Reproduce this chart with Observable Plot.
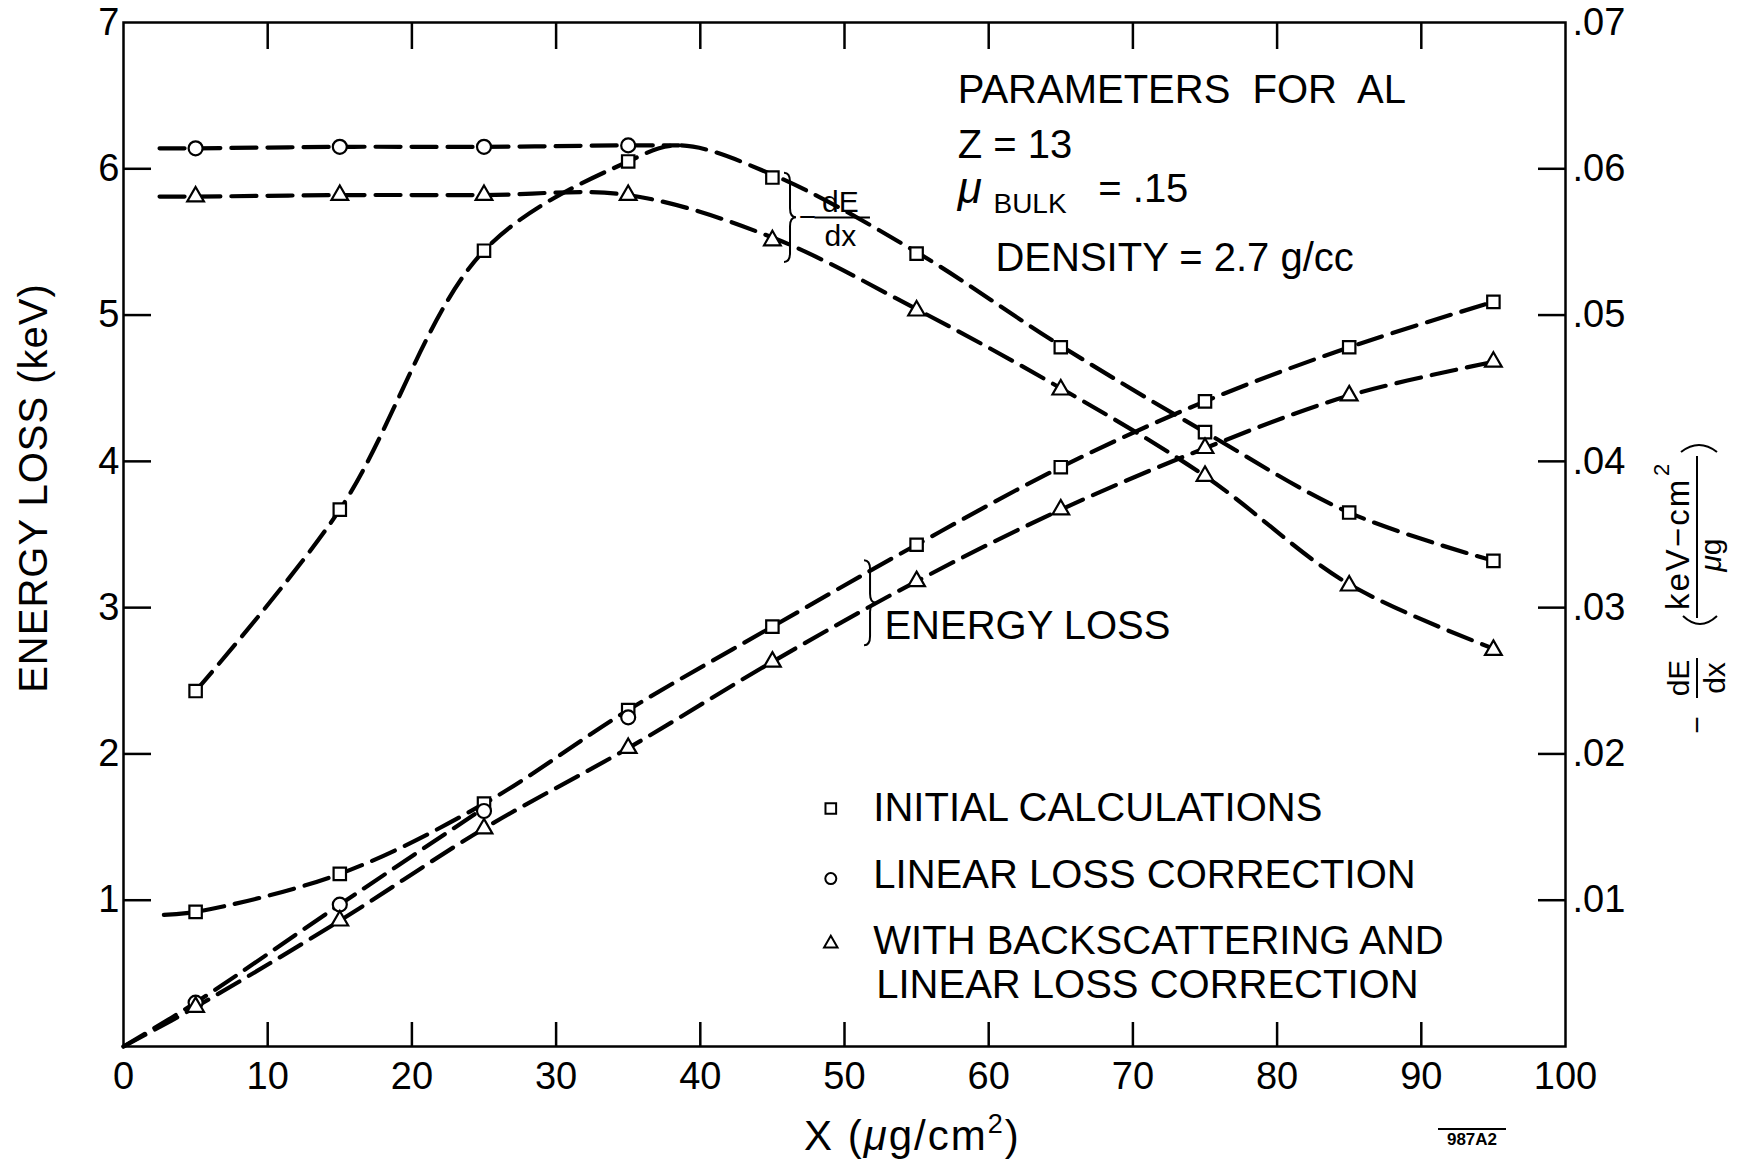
<!DOCTYPE html>
<html>
<head>
<meta charset="utf-8">
<script src="https://cdn.jsdelivr.net/npm/d3@7"></script>
<script src="https://cdn.jsdelivr.net/npm/@observablehq/plot@0.6"></script>
<style>
  html, body { margin: 0; padding: 0; background: #fff; }
  #chart svg { display: block; }
</style>
</head>
<body>
<div id="chart"></div>
<script>
// ---------------- data ----------------
const thickness = [5, 15, 25, 35, 45, 55, 65, 75, 85, 95];          // X (µg/cm²)
const thicknessLinear = [5, 15, 25, 35];

// -dE/dx  (keV-cm²/µg), right axis
const dedxInitial     = [0.0243, 0.0367, 0.0544, 0.0605, 0.0594, 0.0542, 0.0478, 0.0420, 0.0365, 0.0332];
const dedxLinear      = [0.0614, 0.0615, 0.0615, 0.0616];
const dedxBackscatter = [0.0581, 0.0582, 0.0582, 0.0582, 0.0551, 0.0503, 0.0449, 0.0390, 0.0315, 0.0271];

// Energy loss (keV), left axis
const eLossInitial     = [0.92, 1.18, 1.66, 2.30, 2.87, 3.43, 3.96, 4.41, 4.78, 5.09];
const eLossLinear      = [0.30, 0.97, 1.61, 2.25];
const eLossBackscatter = [0.27, 0.86, 1.49, 2.04, 2.63, 3.18, 3.67, 4.09, 4.45, 4.68];

// faired dashed curves (knots)
const curveDedxInitialX = [5, 15, 25, 35, 38.5, 45, 55, 65, 75, 85, 95];
const curveDedxInitialY = [0.0243, 0.0367, 0.0544, 0.0605, 0.0616, 0.0596, 0.0543, 0.0479, 0.0420, 0.0365, 0.0332];
const curveDedxLinearX  = [2.5, 5, 15, 25, 35, 38.5];
const curveDedxLinearY  = [0.0614, 0.0614, 0.0615, 0.0615, 0.0616, 0.0616];
const curveDedxBackX    = [2.5, 5, 15, 25, 35, 45, 55, 65, 75, 85, 95];
const curveDedxBackY    = [0.0581, 0.0581, 0.0582, 0.0582, 0.0582, 0.0553, 0.0504, 0.0450, 0.0390, 0.0316, 0.0272];
const curveELossInitialX = [2.8, 5, 15, 25, 35, 45, 55, 65, 75, 85, 95];
const curveELossInitialY = [0.90, 0.92, 1.18, 1.66, 2.30, 2.87, 3.43, 3.96, 4.41, 4.78, 5.09];
const curveELossLinearX  = [0, 5, 15, 25];
const curveELossLinearY  = [0, 0.30, 0.97, 1.63];
const curveELossBackX    = [0, 5, 15, 25, 35, 45, 55, 65, 75, 85, 95];
const curveELossBackY    = [0, 0.27, 0.86, 1.49, 2.04, 2.63, 3.18, 3.67, 4.09, 4.45, 4.68];

// tick labels
const xTickLabels   = [0, 10, 20, 30, 40, 50, 60, 70, 80, 90, 100];
const xInnerTicks   = [10, 20, 30, 40, 50, 60, 70, 80, 90];
const yLeftLabels   = [1, 2, 3, 4, 5, 6, 7];
const yLeftTicks    = [1, 2, 3, 4, 5, 6];
const yRightLabels  = [0.01, 0.02, 0.03, 0.04, 0.05, 0.06, 0.07];
const yRightTicks   = [0.01, 0.02, 0.03, 0.04, 0.05, 0.06];

const legendLabels = ["INITIAL CALCULATIONS", "LINEAR LOSS CORRECTION", "WITH BACKSCATTERING AND", "LINEAR LOSS CORRECTION"];

// ---------------- helpers ----------------
const RIGHT_FACTOR = 100; // right axis value * 100 = left axis units
const pts = (xs, ys, k = 1) => xs.map((x, i) => ({x, y: ys[i] * k}));
const W = 1752, H = 1168;
const mL = 123, mR = 187, mT = 22, mB = 122;
const pw = W - mL - mR, ph = H - mT - mB;

const dash = {stroke: "black", strokeWidth: 4.2, strokeDasharray: "25,11", curve: "catmull-rom", fill: "none"};
const dotStyle = {fill: "white", stroke: "black", strokeWidth: 2.2};
const note = (str, x, y, opts = {}) =>
  Plot.text([str], {x: () => x, y: () => y, text: d => d, textAnchor: "start", fontSize: 40, fill: "black", ...opts});

const plot = Plot.plot({
  width: W, height: H,
  marginLeft: mL, marginRight: mR, marginTop: mT, marginBottom: mB,
  x: {domain: [0, 100]},
  y: {domain: [0, 7]},
  style: {fontFamily: "'Liberation Sans', Arial, sans-serif", background: "white", color: "black", overflow: "visible"},
  marks: [
    // inward ticks
    Plot.tickY(yLeftTicks, {y: d => d, insetRight: pw - 28, strokeWidth: 2.5, stroke: "black"}),
    Plot.tickY(yRightTicks, {y: d => d * RIGHT_FACTOR, insetLeft: pw - 27, strokeWidth: 2.5, stroke: "black"}),
    Plot.tickX(xInnerTicks, {x: d => d, insetTop: ph - 24, strokeWidth: 2.5, stroke: "black"}),
    Plot.tickX(xInnerTicks, {x: d => d, insetBottom: ph - 27, strokeWidth: 2.5, stroke: "black"}),
    Plot.frame({stroke: "black", strokeWidth: 2.5}),

    // axes labels
    Plot.axisX(xTickLabels, {anchor: "bottom", tickSize: 0, tickPadding: 16, fontSize: 38, label: null, tickFormat: d => String(d)}),
    Plot.axisY(yLeftLabels, {anchor: "left", tickSize: 0, tickPadding: 4, fontSize: 38, label: null, tickFormat: d => String(d)}),
    Plot.text(yRightLabels, {x: () => 100, y: d => d * RIGHT_FACTOR, text: d => "." + String(Math.round(d * 100)).padStart(2, "0"),
      textAnchor: "start", dx: 7, fontSize: 38, fill: "black"}),

    // dashed curves
    Plot.line(pts(curveDedxInitialX, curveDedxInitialY, RIGHT_FACTOR), {x: "x", y: "y", ...dash}),
    Plot.line(pts(curveDedxLinearX, curveDedxLinearY, RIGHT_FACTOR), {x: "x", y: "y", ...dash}),
    Plot.line(pts(curveDedxBackX, curveDedxBackY, RIGHT_FACTOR), {x: "x", y: "y", ...dash}),
    Plot.line(pts(curveELossInitialX, curveELossInitialY), {x: "x", y: "y", ...dash}),
    Plot.line(pts(curveELossLinearX, curveELossLinearY), {x: "x", y: "y", ...dash}),
    Plot.line(pts(curveELossBackX, curveELossBackY), {x: "x", y: "y", ...dash}),

    // markers
    Plot.dot(pts(thickness, dedxInitial, RIGHT_FACTOR), {x: "x", y: "y", symbol: "square", r: 7, ...dotStyle}),
    Plot.dot(pts(thicknessLinear, dedxLinear, RIGHT_FACTOR), {x: "x", y: "y", symbol: "circle", r: 7, ...dotStyle}),
    Plot.dot(pts(thickness, dedxBackscatter, RIGHT_FACTOR), {x: "x", y: "y", symbol: "triangle", r: 6.2, ...dotStyle}),
    Plot.dot(pts(thickness, eLossInitial), {x: "x", y: "y", symbol: "square", r: 7, ...dotStyle}),
    Plot.dot(pts(thicknessLinear, eLossLinear), {x: "x", y: "y", symbol: "circle", r: 7, ...dotStyle}),
    Plot.dot(pts(thickness, eLossBackscatter), {x: "x", y: "y", symbol: "triangle", r: 6.2, ...dotStyle}),

    // parameter block
    note("PARAMETERS  FOR  AL", 57.85, 6.54, {letterSpacing: 1}),
    note("Z = 13", 57.85, 6.16, {letterSpacing: 1}),
    note("\u03BC", 57.85, 5.86, {fontSize: 44, fontStyle: "italic"}),
    note("BULK", 60.33, 5.76, {fontSize: 28, letterSpacing: 1}),
    note("= .15", 67.6, 5.86, {letterSpacing: 1}),
    note("DENSITY = 2.7 g/cc", 60.47, 5.39, {letterSpacing: 2}),

    // -dE/dx label
    note("\u2212", 47.43, 5.667, {fontSize: 30, textAnchor: "middle"}),
    note("dE", 49.72, 5.767, {fontSize: 30, textAnchor: "middle"}),
    note("dx", 49.72, 5.54, {fontSize: 30, textAnchor: "middle"}),
    Plot.ruleY([5.667], {x1: 47.95, x2: 51.8, stroke: "black", strokeWidth: 2}),

    // energy loss label
    note("ENERGY LOSS", 52.77, 2.87, {letterSpacing: 1}),

    // legend
    Plot.dot([0], {x: () => 49.05, y: () => 1.627, symbol: "square", r: 6, ...dotStyle, strokeWidth: 2}),
    Plot.dot([0], {x: () => 49.05, y: () => 1.148, symbol: "circle", r: 5.5, ...dotStyle, strokeWidth: 2}),
    Plot.dot([0], {x: () => 49.05, y: () => 0.704, symbol: "triangle", r: 5, ...dotStyle, strokeWidth: 2}),
    note(legendLabels[0], 52.0, 1.632, {letterSpacing: 1.6}),
    note(legendLabels[1], 52.0, 1.174, {letterSpacing: 1.6}),
    note(legendLabels[2], 52.0, 0.723, {letterSpacing: 1.6}),
    note(legendLabels[3], 52.2, 0.416, {letterSpacing: 1.6})
  ]
});

document.getElementById("chart").appendChild(plot);

// ---------------- annotations drawn through the plot's scales ----------------
const svg = d3.select(plot);
const sx = plot.scale("x"), sy = plot.scale("y");
const fx = sx.apply ? (v => sx.apply(v)) : d3.scaleLinear(sx.domain, sx.range);
const fy = sy.apply ? (v => sy.apply(v)) : d3.scaleLinear(sy.domain, sy.range);

const braces = [{x: 45.84, y1: 5.36, y2: 5.97}, {x: 51.39, y1: 2.74, y2: 3.32}];
braces.forEach(b => {
  const x0 = fx(b.x), top = fy(b.y2), bot = fy(b.y1), mid = (top + bot) / 2, w = 6;
  const d = `M${x0},${top} Q${x0 + w},${top} ${x0 + w},${top + 9} L${x0 + w},${mid - 9} Q${x0 + w},${mid} ${x0 + 2 * w},${mid} ` +
            `Q${x0 + w},${mid} ${x0 + w},${mid + 9} L${x0 + w},${bot - 9} Q${x0 + w},${bot} ${x0},${bot}`;
  svg.append("path").attr("d", d).attr("fill", "none").attr("stroke", "black").attr("stroke-width", 2);
});

const FONT = "'Liberation Sans', Arial, sans-serif";

// left axis title
svg.append("text")
  .attr("transform", `translate(47,${mT + 466}) rotate(-90)`)
  .attr("text-anchor", "middle").attr("font-size", 40).attr("font-family", FONT).attr("fill", "black")
  .attr("letter-spacing", 1)
  .text("ENERGY LOSS (keV)");

// x axis title
const xt = svg.append("text")
  .attr("x", 804).attr("y", 1150).attr("text-anchor", "start").attr("font-size", 42).attr("font-family", FONT).attr("fill", "black")
  .attr("letter-spacing", 2);
xt.append("tspan").text("X (");
xt.append("tspan").attr("font-style", "italic").text("\u03BC");
xt.append("tspan").text("g/cm");
xt.append("tspan").attr("font-size", 27).attr("dy", -17).text("2");
xt.append("tspan").attr("dy", 17).text(")");

// right axis title (rotated)
const rt = svg.append("g").attr("transform", "translate(1697,590) rotate(-90)")
  .attr("font-family", FONT).attr("fill", "black").attr("text-anchor", "start");
rt.append("text").attr("x", -135).attr("y", 10).attr("text-anchor", "middle").attr("font-size", 30).text("\u2212");
rt.append("text").attr("x", -88).attr("y", -8).attr("text-anchor", "middle").attr("font-size", 30).text("dE");
rt.append("line").attr("x1", -108).attr("x2", -68).attr("y1", 0).attr("y2", 0).attr("stroke", "black").attr("stroke-width", 2);
rt.append("text").attr("x", -88).attr("y", 28).attr("text-anchor", "middle").attr("font-size", 30).text("dx");
rt.append("path").attr("d", "M-26,-14 Q-42,3 -26,20").attr("fill", "none").attr("stroke", "black").attr("stroke-width", 2);
rt.append("line").attr("x1", -28).attr("x2", 134).attr("y1", 0).attr("y2", 0).attr("stroke", "black").attr("stroke-width", 2);
rt.append("text").attr("x", -20).attr("y", -8).attr("text-anchor", "start").attr("font-size", 33).attr("letter-spacing", 2).text("keV\u2212cm");
rt.append("text").attr("x", 114).attr("y", -28).attr("text-anchor", "start").attr("font-size", 22).text("2");
const mug = rt.append("text").attr("x", 35).attr("y", 24).attr("text-anchor", "middle").attr("font-size", 30);
mug.append("tspan").attr("font-style", "italic").text("\u03BC");
mug.append("tspan").text("g");
rt.append("path").attr("d", "M138,-16 Q152,2 138,20").attr("fill", "none").attr("stroke", "black").attr("stroke-width", 2);

// drawing number
svg.append("text").attr("x", 1472).attr("y", 1145).attr("text-anchor", "middle")
  .attr("font-size", 17).attr("font-weight", "bold").attr("font-family", FONT).attr("fill", "black").text("987A2");
svg.append("line").attr("x1", 1438).attr("x2", 1506).attr("y1", 1129).attr("y2", 1129)
  .attr("stroke", "black").attr("stroke-width", 2);
</script>
</body>
</html>
